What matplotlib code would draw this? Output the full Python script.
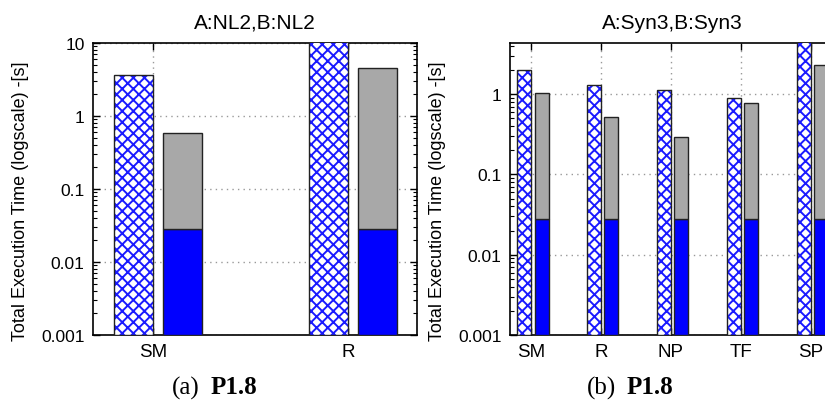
import matplotlib
matplotlib.use("Agg")
import matplotlib.pyplot as plt
import numpy as np
from matplotlib.ticker import FixedLocator, LogLocator, NullFormatter, FuncFormatter

plt.rcParams['font.family'] = ['Liberation Sans', 'DejaVu Sans']
plt.rcParams['hatch.linewidth'] = 1.4

# ---- data ----
left_title = "A:NL2,B:NL2"
left_cats = ["SM", "R"]
left_hatched = [3.6, 12.0]
left_total = [0.59, 4.5]
left_blue = [0.028, 0.028]

right_title = "A:Syn3,B:Syn3"
right_cats = ["SM", "R", "NP", "TF", "SP"]
right_hatched = [2.0, 1.30, 1.11, 0.89, 6.0]
right_total = [1.03, 0.52, 0.29, 0.78, 2.32]
right_blue = [0.028, 0.028, 0.028, 0.028, 0.028]

ylabel = "Total Execution Time (logscale) -[s]"
caption_a = "(a)"
caption_b = "(b)"
caption_bold = "P1.8"

W, H = 825, 406
fig = plt.figure(figsize=(W / 100, H / 100), dpi=100)

def px_axes(x0, x1, y0, y1):
    return fig.add_axes([x0 / W, (H - y1) / H, (x1 - x0) / W, (y1 - y0) / H])

HATCH_BLUE = '#1a1aff'
BLUE = '#0000ff'
GRAY = '#a8a8a8'

def draw(ax, cats, hatched, total, blue, ylim, xlim, title, yticks, label_x):
    ymin = ylim[0]
    x = np.arange(len(cats))
    hatched = np.array(hatched)
    total = np.array(total)
    blue = np.array(blue)
    w = 0.2
    xh = x - 0.1
    xg = x + 0.152
    # hatched bars: hatch drawn in blue, then black outline
    ax.bar(xh, hatched - ymin, bottom=ymin, width=w, color='white',
           edgecolor=HATCH_BLUE, hatch='xxx', linewidth=0, zorder=3)
    ax.bar(xh, hatched - ymin, bottom=ymin, width=w, fill=False,
           edgecolor='#222222', linewidth=1.0, zorder=4)
    # stacked bars
    ax.bar(xg, blue - ymin, bottom=ymin, width=w, color=BLUE,
           edgecolor='#222222', linewidth=1.0, zorder=3)
    ax.bar(xg, total - blue, bottom=blue, width=w, color=GRAY,
           edgecolor='#222222', linewidth=1.0, zorder=3)
    ax.set_yscale('log')
    ax.set_ylim(*ylim)
    ax.set_xlim(*xlim)
    ax.set_xticks(x)
    ax.set_xticklabels(cats, fontsize=13.5)
    ax.yaxis.set_major_locator(FixedLocator(yticks))
    ax.yaxis.set_major_formatter(FuncFormatter(lambda v, p: '%g' % v))
    ax.yaxis.set_minor_locator(LogLocator(base=10, subs=np.arange(2, 10)))
    ax.yaxis.set_minor_formatter(NullFormatter())
    ax.tick_params(axis='both', which='major', direction='in', length=5,
                   width=1.0, top=True, right=True, pad=6)
    ax.tick_params(axis='y', which='major', labelsize=12.5)
    ax.tick_params(axis='y', which='minor', direction='in', length=3,
                   width=0.8, right=True)
    ax.grid(True, which='major', linestyle=(0, (1, 3)), color='#999999',
            linewidth=1.0, zorder=0)
    ax.set_axisbelow(True)
    for s in ax.spines.values():
        s.set_linewidth(1.2)
        s.set_color('black')
    ax.set_title(title, fontsize=15, pad=11)
    ax.set_ylabel(ylabel, fontsize=13, va='center')
    ax.yaxis.set_label_coords(label_x, 0.46)

axL = px_axes(93, 417, 44, 336)
draw(axL, left_cats, left_hatched, left_total, left_blue,
     (0.001, 10), (-0.31, 1.355), left_title, [0.001, 0.01, 0.1, 1, 10],
     (20 - 93) / 324)

axR = px_axes(510, 835, 44, 336)
draw(axR, right_cats, right_hatched, right_total, right_blue,
     (0.001, 4.33), (-0.3, 4.35), right_title, [0.001, 0.01, 0.1, 1],
     (438 - 510) / 325)

serif = ['Liberation Serif', 'DejaVu Serif']
yc = 1 - 388 / H
fig.text(172 / W, yc, caption_a, family=serif, fontsize=18, ha='left', va='center')
fig.text(211 / W, yc, caption_bold, family=serif, fontsize=18, weight='bold', ha='left', va='center')
fig.text(587 / W, yc, caption_b, family=serif, fontsize=18, ha='left', va='center')
fig.text(627 / W, yc, caption_bold, family=serif, fontsize=18, weight='bold', ha='left', va='center')

fig.savefig("out.png", dpi=100)
